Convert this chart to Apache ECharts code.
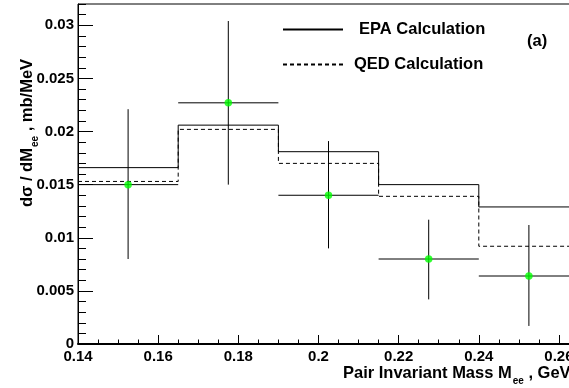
<!DOCTYPE html>
<html>
<head>
<meta charset="utf-8">
<script src="https://cdn.jsdelivr.net/npm/echarts@6/dist/echarts.min.js"></script>
<style>
  html, body { margin: 0; padding: 0; background: #fff; }
  #main { width: 569px; height: 388px; }
</style>
</head>
<body>
<div id="main"></div>
<script>
var chartDom = document.getElementById("main");
var chart = echarts.init(chartDom, null, { renderer: "canvas" });

const FONT = "'Liberation Sans', Arial, Helvetica, sans-serif";

// histogram bin edges (GeV)
const binEdges = [0.14, 0.165, 0.19, 0.215, 0.24, 0.265];
// calculated cross sections per bin (mb/MeV)
const epaValues = [0.0166, 0.0206, 0.0181, 0.0150, 0.0129];
const qedValues = [0.0153, 0.0202, 0.0170, 0.0139, 0.0092];

// measured points
const massCenters = [0.1525, 0.1775, 0.2025, 0.2275, 0.2525];
const massHalfWidth = [0.0125, 0.0125, 0.0125, 0.0125, 0.0125];
const measured = [0.0150, 0.0227, 0.0140, 0.0080, 0.0064];
const errLow = [0.0080, 0.0150, 0.0090, 0.0042, 0.0017];
const errHigh = [0.0221, 0.0304, 0.0191, 0.0117, 0.0112];

// build step data: left edge of each bin + closing right edge
function stepData(values) {
	let out = [];
	for (let i = 0; i < values.length; i++) {
		out.push([binEdges[i], values[i]]);
	}
	out.push([binEdges[binEdges.length - 1], values[values.length - 1]]);
	return out;
}

let errData = [];
let pointData = [];
for (let i = 0; i < massCenters.length; i++) {
	errData.push([
		massCenters[i],
		measured[i],
		massCenters[i] - massHalfWidth[i],
		massCenters[i] + massHalfWidth[i],
		errLow[i],
		errHigh[i],
	]);
	pointData.push([massCenters[i], measured[i]]);
}

const labelStyle = {
	color: "#000",
	fontFamily: FONT,
	fontWeight: "bold",
	fontSize: 15,
};

const legendText = {
	color: "#000",
	fontFamily: FONT,
	fontWeight: "bold",
	fontSize: 16.5,
};

var option = {
	animation: false,
	backgroundColor: "#fff",
	grid: {
		left: 78,
		top: 4,
		right: -10,
		bottom: 44,
		show: true,
		borderColor: "#000",
		borderWidth: 1,
		outerBoundsMode: "none",
	},
	xAxis: [
		{
			type: "value",
			min: 0.14,
			max: 0.265,
			interval: 0.02,
			axisLine: { show: true, lineStyle: { color: "#000", width: 2 } },
			axisTick: { inside: true, length: 9, lineStyle: { color: "#000" } },
			axisLabel: { ...labelStyle, margin: 5, showMaxLabel: false },
			splitLine: { show: false },
		},
		{
			// minor ticks
			type: "value",
			position: "bottom",
			min: 0.14,
			max: 0.265,
			interval: 0.005,
			axisLine: { show: false },
			axisTick: { inside: true, length: 4.5, lineStyle: { color: "#000" } },
			axisLabel: { show: false },
			splitLine: { show: false },
		},
	],
	yAxis: [
		{
			type: "value",
			min: 0,
			max: 0.032,
			interval: 0.005,
			axisLine: { show: true, lineStyle: { color: "#000", width: 1 } },
			axisTick: { inside: true, length: 15, lineStyle: { color: "#000" } },
			axisLabel: { ...labelStyle, margin: 4, showMaxLabel: false },
			splitLine: { show: false },
		},
		{
			// minor ticks
			type: "value",
			position: "left",
			min: 0,
			max: 0.032,
			interval: 0.001,
			axisLine: { show: false },
			axisTick: { inside: true, length: 8, lineStyle: { color: "#000" } },
			axisLabel: { show: false },
			splitLine: { show: false },
		},
	],
	legend: [
		{
			data: ["EPA Calculation"],
			left: 282,
			top: 21,
			padding: 0,
			itemWidth: 60,
			itemHeight: 14,
			itemStyle: { opacity: 0 },
			textStyle: { ...legendText, padding: [0, 0, 0, 11] },
		},
		{
			data: ["QED Calculation"],
			left: 282,
			top: 56,
			padding: 0,
			itemWidth: 60,
			itemHeight: 14,
			itemStyle: { opacity: 0 },
			textStyle: { ...legendText, padding: [0, 0, 0, 6] },
		},
	],
	graphic: [
		{
			type: "text",
			x: 527,
			y: 41,
			style: {
				text: "(a)",
				fill: "#000",
				font: "bold 16.5px " + FONT,
				textVerticalAlign: "middle",
			},
		},
		{
			// x axis title
			type: "text",
			x: 343,
			y: 360,
			style: {
				text: "{m|Pair Invariant Mass M}{s|ee}{m| , GeV}",
				fill: "#000",
				textVerticalAlign: "top",
				rich: {
					m: { fontFamily: FONT, fontWeight: "bold", fontSize: 16.5, lineHeight: 26, fill: "#000" },
					s: { fontFamily: FONT, fontWeight: "bold", fontSize: 10, lineHeight: 10, padding: [16, 0, 0, 1], fill: "#000" },
				},
			},
		},
		{
			// y axis title
			type: "text",
			x: 14,
			y: 207,
			rotation: Math.PI / 2,
			style: {
				text: "{m|d\u03c3 / dM}{s|ee}{m| , mb/MeV}",
				fill: "#000",
				textVerticalAlign: "top",
				rich: {
					m: { fontFamily: FONT, fontWeight: "bold", fontSize: 16.5, lineHeight: 26, fill: "#000" },
					s: { fontFamily: FONT, fontWeight: "bold", fontSize: 10, lineHeight: 10, padding: [16, 0, 0, 1], fill: "#000" },
				},
			},
		},
	],
	series: [
		{
			name: "EPA Calculation",
			type: "line",
			step: "end",
			data: stepData(epaValues),
			symbol: "none",
			lineStyle: { color: "#000", width: 1, type: "solid" },
			itemStyle: { color: "#000" },
			z: 2,
		},
		{
			name: "QED Calculation",
			type: "line",
			step: "end",
			data: stepData(qedValues),
			symbol: "none",
			lineStyle: { color: "#000", width: 1, type: [4, 3] },
			itemStyle: { color: "#000" },
			z: 2,
		},
		{
			name: "errors",
			type: "custom",
			data: errData,
			encode: { x: [0, 2, 3], y: [1, 4, 5] },
			renderItem: function (params, api) {
				const c = api.coord([api.value(0), api.value(1)]);
				const l = api.coord([api.value(2), api.value(1)]);
				const r = api.coord([api.value(3), api.value(1)]);
				const lo = api.coord([api.value(0), api.value(4)]);
				const hi = api.coord([api.value(0), api.value(5)]);
				const st = { stroke: "#000", lineWidth: 1 };
				return {
					type: "group",
					children: [
						{ type: "line", shape: { x1: l[0], y1: c[1], x2: r[0], y2: c[1] }, style: st },
						{ type: "line", shape: { x1: c[0], y1: lo[1], x2: c[0], y2: hi[1] }, style: st },
					],
				};
			},
			z: 3,
		},
		{
			name: "data",
			type: "scatter",
			data: pointData,
			symbol: "circle",
			symbolSize: 7.5,
			itemStyle: { color: "#00ff00" },
			z: 4,
		},
	],
};

option && chart.setOption(option);
</script>
</body>
</html>
